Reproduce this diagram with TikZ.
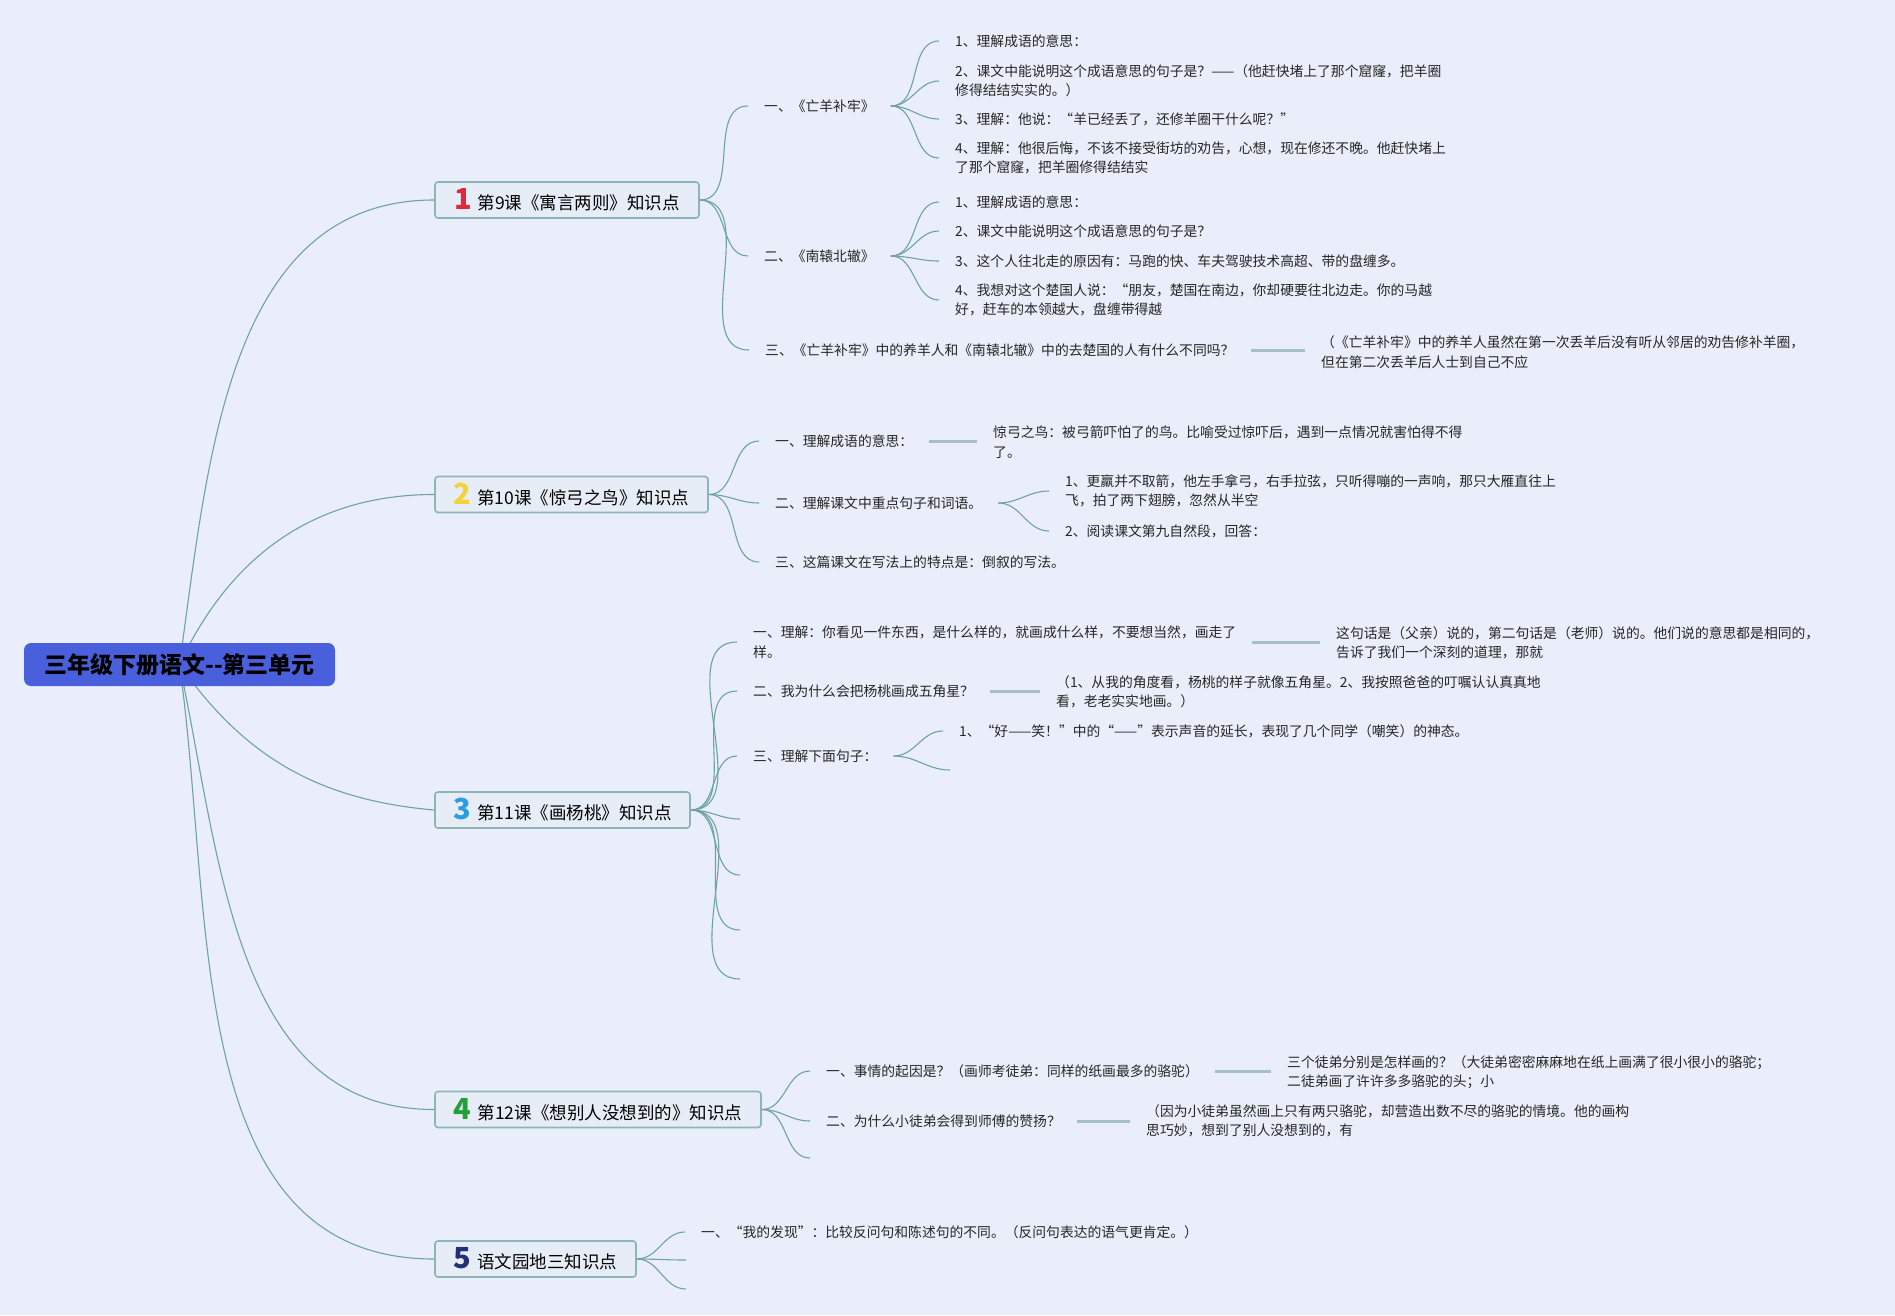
\documentclass[tikz,border=0pt]{standalone}
\usepackage{fontspec}
\setmainfont{Noto Sans CJK SC}
\usepackage{tikz}
\usetikzlibrary{backgrounds}
\usepackage{xcolor}

\definecolor{paper}{HTML}{E9EEFA}
\definecolor{rootblue}{HTML}{4A5FDC}
\definecolor{boxfill}{HTML}{E7EDF7}
\definecolor{boxline}{HTML}{8DB5B9}
\definecolor{linkteal}{HTML}{6FA39F}
\definecolor{barblue}{HTML}{A7C0C8}
\definecolor{numred}{HTML}{E0283C}
\definecolor{numyellow}{HTML}{F4D23A}
\definecolor{numblue}{HTML}{2A9EE0}
\definecolor{numgreen}{HTML}{22A03A}
\definecolor{numnavy}{HTML}{22307A}

\newcommand{\lessonnum}[2]{{\color{#1}\fontsize{29}{29}\selectfont\bfseries #2}\hspace{6pt}}

\begin{document}
\begin{tikzpicture}[
    x=1pt, y=-1pt,
    root/.style={rectangle, rounded corners=7pt, fill=rootblue, minimum width=311pt,
                 minimum height=43pt, inner sep=0pt, font=\fontsize{23}{23}\selectfont\bfseries},
    lesson/.style={rectangle, rounded corners=3pt, draw=boxline, line width=1.6pt, fill=boxfill,
                   minimum height=36pt, inner sep=0pt, font=\fontsize{17.5}{17.5}\selectfont},
    item/.style={anchor=west, align=left, inner xsep=16pt, inner ysep=2pt,
                 text=black!85, font=\fontsize{13.8}{19.5}\selectfont},
    link/.style={draw=linkteal, line width=1.1pt},
    bar/.style={draw=barblue, line width=3pt},
]
\begin{scope}[on background layer]
  \fill[paper] (0,0) rectangle (1895,1315);
\end{scope}
\useasboundingbox (0,0) rectangle (1895,1315);

% Root and lessons
\node[root] (root) at (179.5,664.5) {三年级下册语文-{}-第三单元};
\node[lesson, minimum width=264pt] (l1) at (567,200)    {\lessonnum{numred}{1}第9课《寓言两则》知识点};
\node[lesson, minimum width=273pt] (l2) at (571.5,494.5) {\lessonnum{numyellow}{2}第10课《惊弓之鸟》知识点};
\node[lesson, minimum width=255pt] (l3) at (562.5,810)  {\lessonnum{numblue}{3}第11课《画杨桃》知识点};
\node[lesson, minimum width=326pt] (l4) at (598,1109.5) {\lessonnum{numgreen}{4}第12课《想别人没想到的》知识点};
\node[lesson, minimum width=201pt] (l5) at (535.5,1259) {\lessonnum{numnavy}{5}语文园地三知识点};

% Lesson 1
\node[item] (l1a) at (748,106) {一、《亡羊补牢》};
\node[item] (l1a1) at (939,41)  {1、理解成语的意思：};
\node[item] (l1a2) at (939,81)  {2、课文中能说明这个成语意思的句子是？——（他赶快堵上了那个窟窿，把羊圈\\修得结结实实的。）};
\node[item] (l1a3) at (939,119) {3、理解：他说：“羊已经丢了，还修羊圈干什么呢？”};
\node[item] (l1a4) at (939,158) {4、理解：他很后悔，不该不接受街坊的劝告，心想，现在修还不晚。他赶快堵上\\了那个窟窿，把羊圈修得结结实};
\node[item] (l1b) at (748,256) {二、《南辕北辙》};
\node[item] (l1b1) at (939,202) {1、理解成语的意思：};
\node[item] (l1b2) at (939,231) {2、课文中能说明这个成语意思的句子是？};
\node[item] (l1b3) at (939,261) {3、这个人往北走的原因有：马跑的快、车夫驾驶技术高超、带的盘缠多。};
\node[item] (l1b4) at (939,300) {4、我想对这个楚国人说：“朋友，楚国在南边，你却硬要往北边走。你的马越\\好，赶车的本领越大，盘缠带得越};
\node[item] (l1c) at (749,350) {三、《亡羊补牢》中的养羊人和《南辕北辙》中的去楚国的人有什么不同吗？};
\node[item] (l1cx) at (1305,352) {（《亡羊补牢》中的养羊人虽然在第一次丢羊后没有听从邻居的劝告修补羊圈，\\但在第二次丢羊后人士到自己不应};

% Lesson 2
\node[item] (l2a) at (759,441) {一、理解成语的意思：};
\node[item] (l2ax) at (977,442) {惊弓之鸟：被弓箭吓怕了的鸟。比喻受过惊吓后，遇到一点情况就害怕得不得\\了。};
\node[item] (l2b) at (759,503) {二、理解课文中重点句子和词语。};
\node[item] (l2b1) at (1049,491) {1、更羸并不取箭，他左手拿弓，右手拉弦，只听得嘣的一声响，那只大雁直往上\\飞，拍了两下翅膀，忽然从半空};
\node[item] (l2b2) at (1049,531) {2、阅读课文第九自然段，回答：};
\node[item] (l2c) at (759,562) {三、这篇课文在写法上的特点是：倒叙的写法。};

% Lesson 3
\node[item] (l3a) at (737,642) {一、理解：你看见一件东西，是什么样的，就画成什么样，不要想当然，画走了\\样。};
\node[item] (l3ax) at (1320,643) {这句话是（父亲）说的，第二句话是（老师）说的。他们说的意思都是相同的，\\告诉了我们一个深刻的道理，那就};
\node[item] (l3b) at (737,691) {二、我为什么会把杨桃画成五角星？};
\node[item] (l3bx) at (1040,692) {（1、从我的角度看，杨桃的样子就像五角星。2、我按照爸爸的叮嘱认认真真地\\看，老老实实地画。）};
\node[item] (l3c) at (737,756) {三、理解下面句子：};
\node[item] (l3c1) at (943,731) {1、“好——笑！”中的“——”表示声音的延长，表现了几个同学（嘲笑）的神态。};
\coordinate (l3c2) at (950,770);
\coordinate (l3d) at (740,819);
\coordinate (l3e) at (740,875);
\coordinate (l3f) at (740,930);
\coordinate (l3g) at (740,979);

% Lesson 4
\node[item] (l4a) at (810,1071) {一、事情的起因是？（画师考徒弟：同样的纸画最多的骆驼）};
\node[item] (l4ax) at (1271,1072) {三个徒弟分别是怎样画的？（大徒弟密密麻麻地在纸上画满了很小很小的骆驼；\\二徒弟画了许许多多骆驼的头；小};
\node[item] (l4b) at (810,1121) {二、为什么小徒弟会得到师傅的赞扬？};
\node[item] (l4bx) at (1130,1121) {（因为小徒弟虽然画上只有两只骆驼，却营造出数不尽的骆驼的情境。他的画构\\思巧妙，想到了别人没想到的，有};
\coordinate (l4c) at (810,1158);

% Lesson 5
\node[item] (l5a) at (685,1232) {一、“我的发现”：比较反问句和陈述句的不同。（反问句表达的语气更肯定。）};
\coordinate (l5b) at (686,1260);
\coordinate (l5c) at (686,1289);

% Connectors
\begin{scope}[on background layer]
  \draw[link] (root.center) to[out=82,in=180] (l1.west);
  \draw[link] (root.center) to[out=65,in=180] (l2.west);
  \draw[link] (root.center) to[out=-55,in=175] (l3.west);
  \draw[link] (root.center) to[out=-78,in=180] (l4.west);
  \draw[link] (root.center) to[out=-82,in=180] (l5.west);

  \foreach \t in {l1a,l1b,l1c} \draw[link] (l1) to[out=0,in=180] (\t);
  \foreach \t in {l1a1,l1a2,l1a3,l1a4} \draw[link] (l1a) to[out=0,in=180] (\t);
  \foreach \t in {l1b1,l1b2,l1b3,l1b4} \draw[link] (l1b) to[out=0,in=180] (\t);
  \foreach \t in {l2a,l2b,l2c} \draw[link] (l2) to[out=0,in=180] (\t);
  \foreach \t in {l2b1,l2b2} \draw[link] (l2b) to[out=0,in=180] (\t);
  \foreach \t in {l3a,l3b,l3c,l3d,l3e,l3f,l3g} \draw[link] (l3) to[out=0,in=180] (\t);
  \foreach \t in {l3c1,l3c2} \draw[link] (l3c) to[out=0,in=180] (\t);
  \foreach \t in {l4a,l4b,l4c} \draw[link] (l4) to[out=0,in=180] (\t);
  \foreach \t in {l5a,l5b,l5c} \draw[link] (l5) to[out=0,in=180] (\t);
\end{scope}

% Answer bars
\draw[bar] (l1c.east) -- (l1c.east -| l1cx.west);
\draw[bar] (l2a.east) -- (l2a.east -| l2ax.west);
\draw[bar] (l3a.east) -- (l3a.east -| l3ax.west);
\draw[bar] (l3b.east) -- (l3b.east -| l3bx.west);
\draw[bar] (l4a.east) -- (l4a.east -| l4ax.west);
\draw[bar] (l4b.east) -- (l4b.east -| l4bx.west);
\end{tikzpicture}
\end{document}
